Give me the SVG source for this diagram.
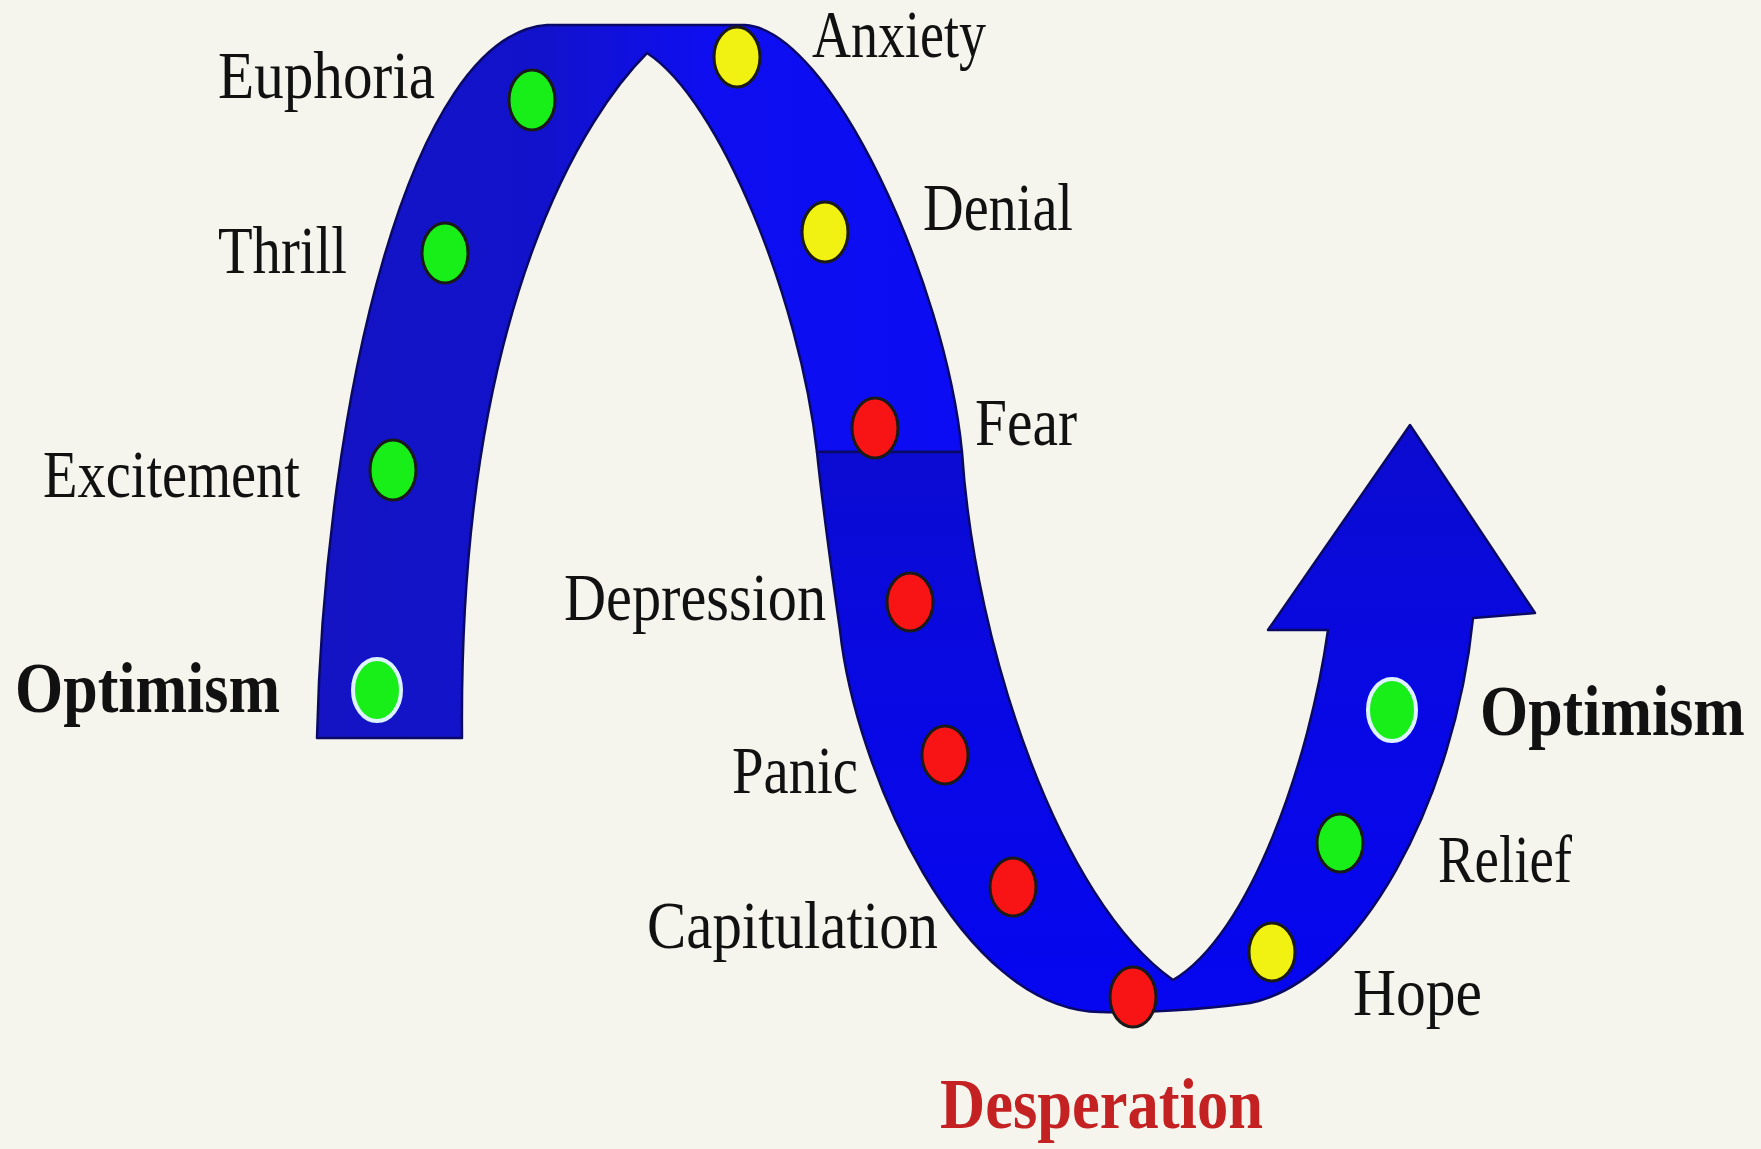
<svg xmlns="http://www.w3.org/2000/svg" width="1761" height="1149" viewBox="0 0 1761 1149">
<defs>
<style>
.lbl{font-family:"Liberation Serif","Times New Roman",serif;font-size:68px;fill:#111;}
.big{font-family:"Liberation Serif","Times New Roman",serif;font-size:72px;font-weight:bold;fill:#111;}
.red{fill:#c42222;}
.rib{stroke:#0a0a66;stroke-width:2.5;stroke-linejoin:round;}
.dot{stroke:#1a1a1a;stroke-width:3;}
.ring{stroke:#dff3ff;stroke-width:4;}
.g{fill:#18ee18;}
.y{fill:#f2f212;}
.r{fill:#f81414;}
</style>
<linearGradient id="archGrad" gradientUnits="userSpaceOnUse" x1="317" y1="0" x2="962" y2="0">
<stop offset="0" stop-color="#1414c4"/>
<stop offset="0.35" stop-color="#1212cc"/>
<stop offset="0.6" stop-color="#0e0ef0"/>
<stop offset="1" stop-color="#0c0cf4"/>
</linearGradient>
<linearGradient id="lowGrad" gradientUnits="userSpaceOnUse" x1="0" y1="452" x2="0" y2="1013">
<stop offset="0" stop-color="#0b0bd2"/>
<stop offset="0.5" stop-color="#0808e6"/>
<stop offset="1" stop-color="#0606f0"/>
</linearGradient>
</defs>
<rect width="1761" height="1149" fill="#f5f5ee"/>
<g id="connectors">
<path id="arch" class="rib" fill="url(#archGrad)" d="M317 738 C325 400 410 35 547 25 L745 25 C830 30 945 280 962 452 L817 452 C800 300 720 100 647 53 C590 110 458 300 462 738 Z"/>
<path id="descent-and-arrow" class="rib" fill="url(#lowGrad)" d="M817 452 L962 452 C975 650 1060 900 1173 980 C1250 935 1310 760 1328 630 L1268 630 L1410 425 L1535 613 L1473 618 C1455 800 1360 980 1250 1003 C1200 1010 1140 1013 1100 1012 C960 1010 855 770 840 630 C830 560 822 500 817 452 Z"/>
</g>
<g id="optimism-start"><ellipse class="g ring" cx="377" cy="690" rx="24" ry="31"/><text class="big" x="15" y="712" textLength="265" lengthAdjust="spacingAndGlyphs">Optimism</text></g>
<g id="excitement"><ellipse class="g dot" cx="393" cy="470" rx="23" ry="30"/><text class="lbl" x="43" y="497" textLength="257" lengthAdjust="spacingAndGlyphs">Excitement</text></g>
<g id="thrill"><ellipse class="g dot" cx="445" cy="253" rx="23" ry="30"/><text class="lbl" x="218" y="273" textLength="129" lengthAdjust="spacingAndGlyphs">Thrill</text></g>
<g id="euphoria"><ellipse class="g dot" cx="532" cy="100" rx="23" ry="30"/><text class="lbl" x="218" y="98" textLength="217" lengthAdjust="spacingAndGlyphs">Euphoria</text></g>
<g id="anxiety"><ellipse class="y dot" cx="737" cy="57" rx="23" ry="30"/><text class="lbl" x="812" y="57" font-size="60" textLength="174" lengthAdjust="spacingAndGlyphs">Anxiety</text></g>
<g id="denial"><ellipse class="y dot" cx="825" cy="232" rx="23" ry="30"/><text class="lbl" x="923" y="230" textLength="150" lengthAdjust="spacingAndGlyphs">Denial</text></g>
<g id="fear"><ellipse class="r dot" cx="875" cy="428" rx="23" ry="30" stroke="#5a0a0a"/><text class="lbl" x="975" y="445" textLength="102" lengthAdjust="spacingAndGlyphs">Fear</text></g>
<g id="depression"><ellipse class="r dot" cx="910" cy="602" rx="23" ry="29" stroke="#5a0a0a"/><text class="lbl" x="564" y="620" textLength="262" lengthAdjust="spacingAndGlyphs">Depression</text></g>
<g id="panic"><ellipse class="r dot" cx="945" cy="755" rx="23" ry="29" stroke="#5a0a0a"/><text class="lbl" x="732" y="793" textLength="126" lengthAdjust="spacingAndGlyphs">Panic</text></g>
<g id="capitulation"><ellipse class="r dot" cx="1013" cy="887" rx="23" ry="29" stroke="#5a0a0a"/><text class="lbl" x="647" y="948" textLength="291" lengthAdjust="spacingAndGlyphs">Capitulation</text></g>
<g id="desperation"><ellipse class="r dot" cx="1133" cy="997" rx="23" ry="30" stroke="#3a0505"/><text class="big red" x="940" y="1128" textLength="323" lengthAdjust="spacingAndGlyphs">Desperation</text></g>
<g id="hope"><ellipse class="y dot" cx="1272" cy="952" rx="23" ry="29"/><text class="lbl" x="1353" y="1015" textLength="129" lengthAdjust="spacingAndGlyphs">Hope</text></g>
<g id="relief"><ellipse class="g dot" cx="1340" cy="843" rx="23" ry="29"/><text class="lbl" x="1438" y="882" textLength="134" lengthAdjust="spacingAndGlyphs">Relief</text></g>
<g id="optimism-end"><ellipse class="g ring" cx="1392" cy="710" rx="24" ry="31"/><text class="big" transform="translate(1480 735) scale(0.86 1)" x="0" y="0">Optimism</text></g>
</svg>
